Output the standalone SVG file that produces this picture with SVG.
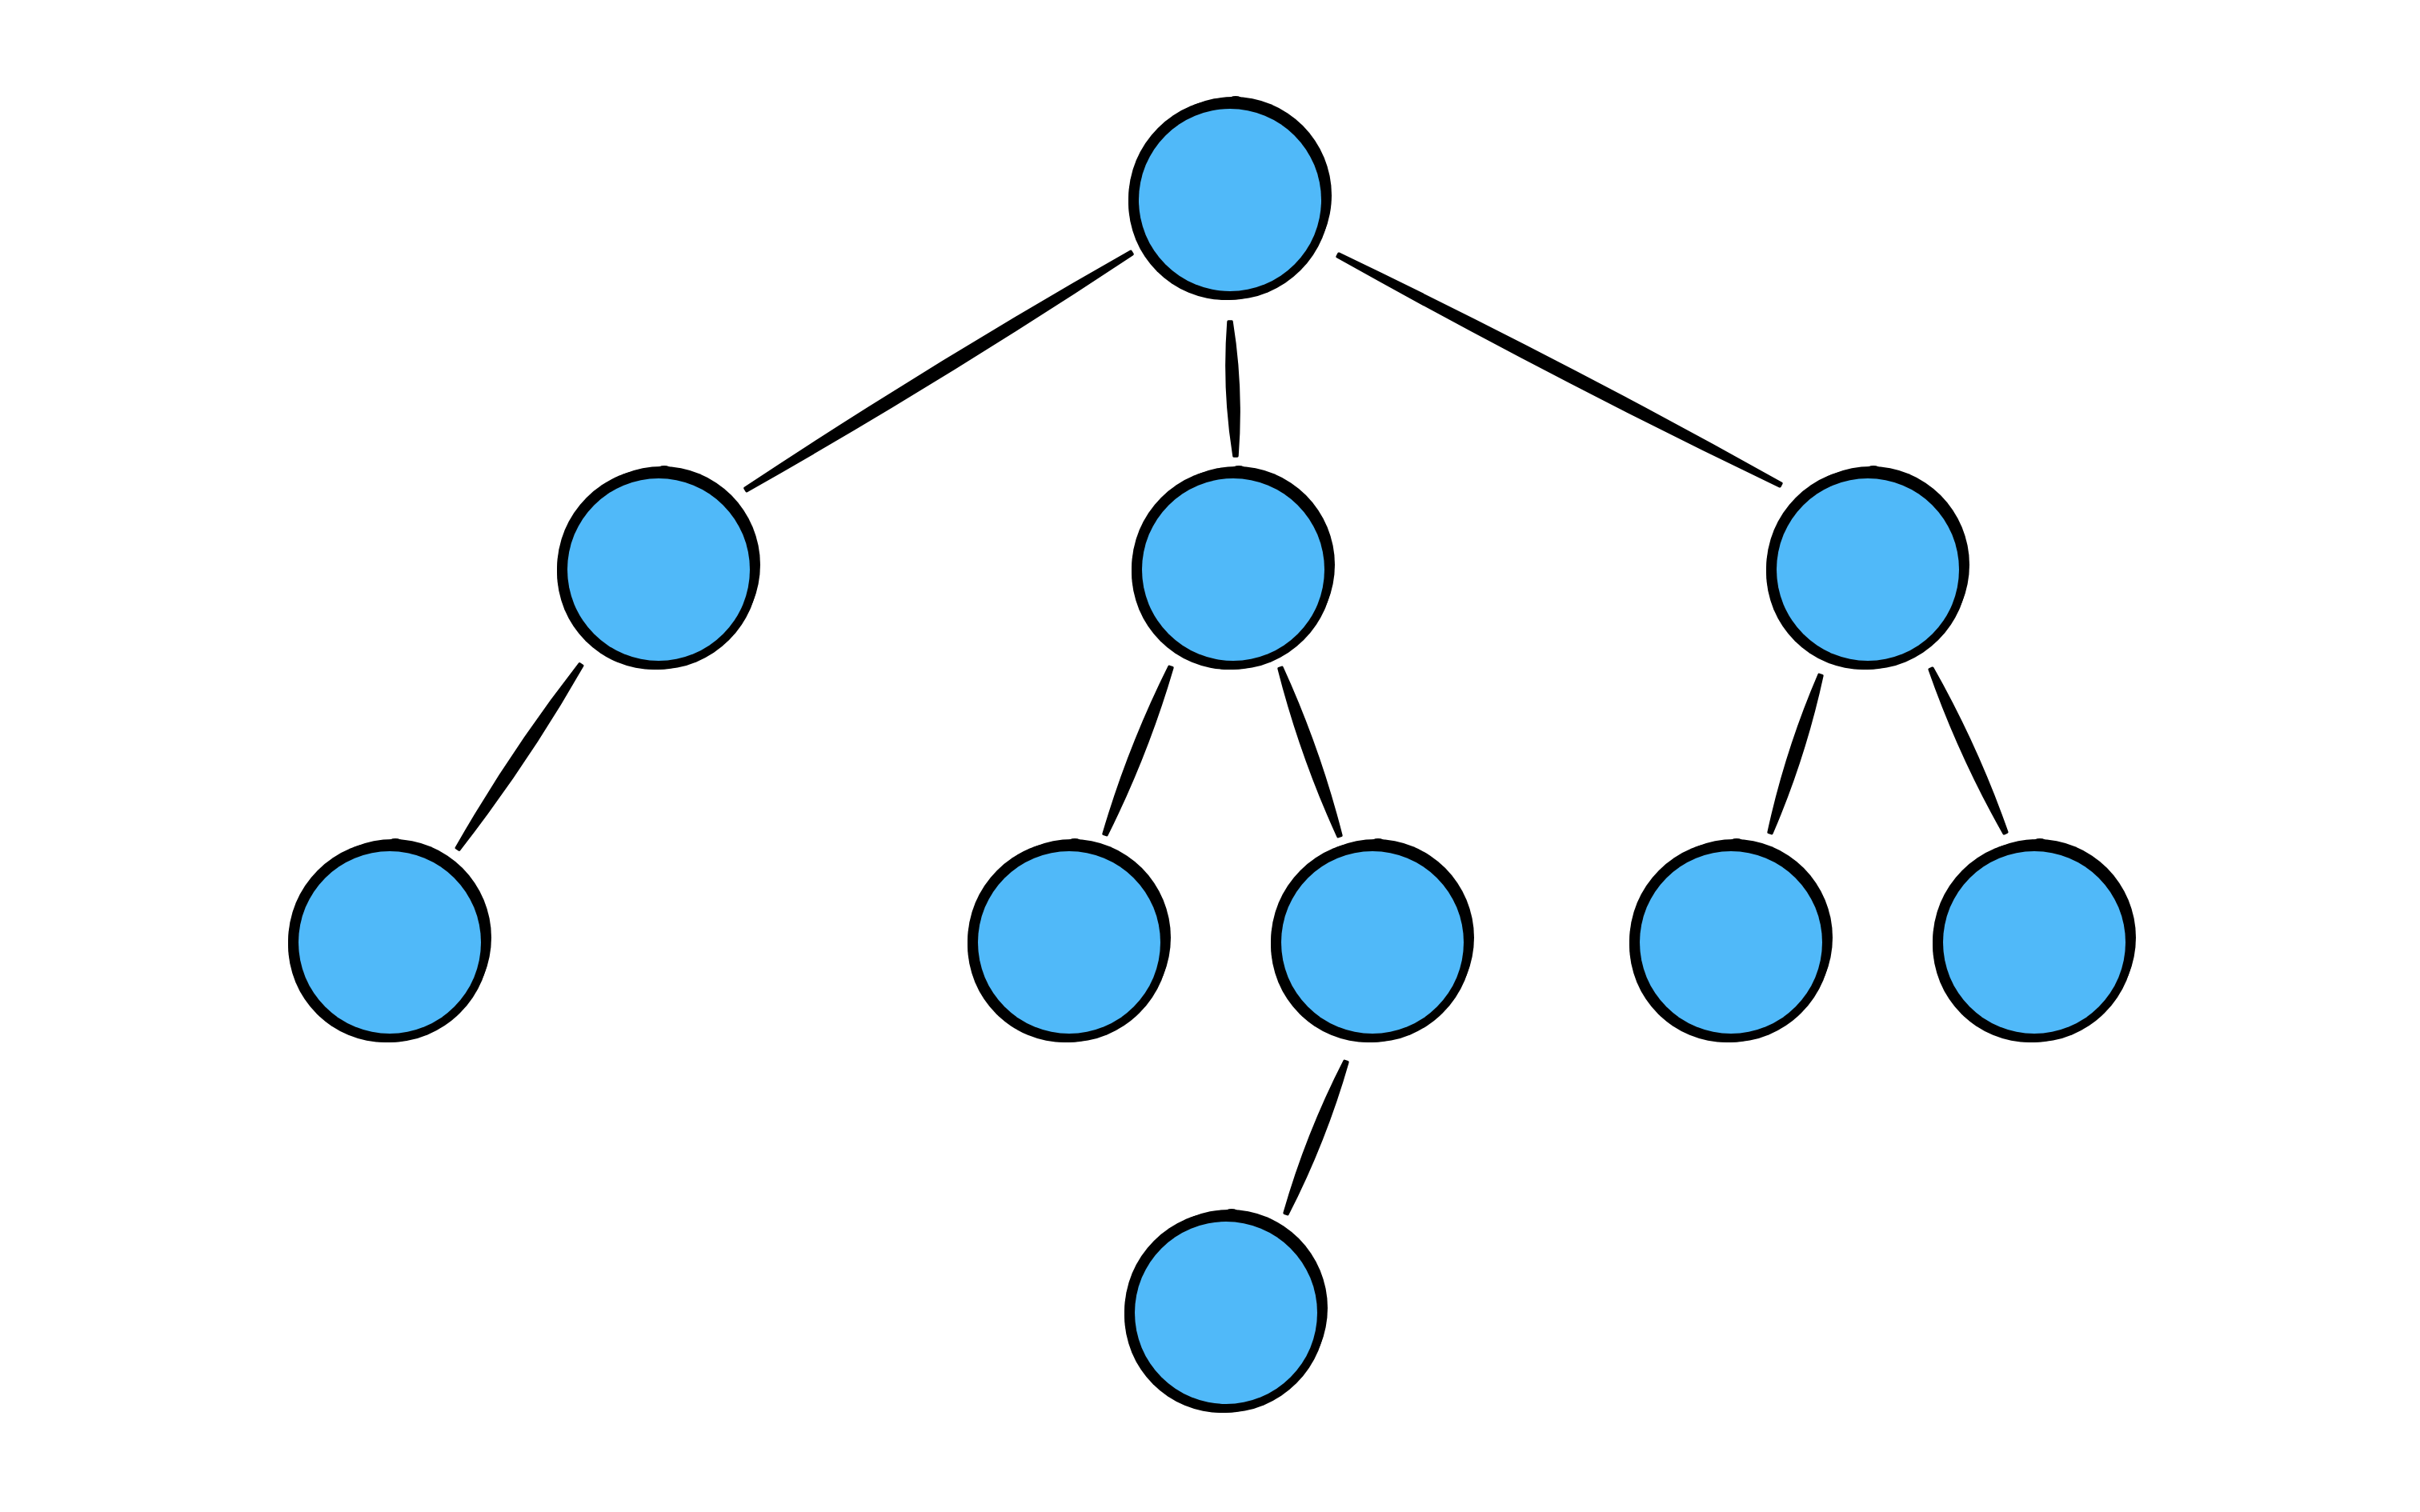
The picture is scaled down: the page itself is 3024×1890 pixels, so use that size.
<svg xmlns="http://www.w3.org/2000/svg" xmlns:xlink="http://www.w3.org/1999/xlink" width="3024" height="1890" viewBox="0 0 3024 1890">
  <style>
    .ink { fill: #000; }
    .body { fill: #50b9f9; }
    .edge { fill: #000; stroke: #000; stroke-width: 3.5; stroke-linejoin: round; }
  </style>
  <defs>
    <g id="nodeShape">
      <circle class="ink" cx="0" cy="0" r="126"/>
      <circle class="ink" cx="5" cy="-5" r="123"/>
      <circle class="ink" cx="-4" cy="4" r="122"/>
      <circle class="body" cx="1" cy="1" r="114"/>
      <ellipse class="ink" cx="8" cy="-124" rx="9" ry="5"/>
    </g>
  </defs>
  <rect x="0" y="0" width="3024" height="1890" fill="#ffffff"/>
  <g id="connectors">
    <path class="edge" d="M1413,314.3 Q1166.7,453.8 931,610.3 L933,613.7 Q1179.3,474.2 1415,317.7 Z"/>
    <path class="edge" d="M1535,402.1 Q1528.5,486.5 1542,570.1 L1546,569.9 Q1552.5,485.5 1539,401.9 Z"/>
    <path class="edge" d="M1671.1,320.8 Q1943,473.2 2224.1,607.8 L2225.9,604.2 Q1954,451.9 1672.9,317.2 Z"/>
    <path class="edge" d="M724.3,829.9 Q639,939.3 570.3,1059.9 L573.7,1062.1 Q659,952.7 727.7,832.1 Z"/>
    <path class="edge" d="M1461.1,833.3 Q1410.8,934.1 1379.1,1042.3 L1382.9,1043.7 Q1433.2,942.9 1464.9,834.7 Z"/>
    <path class="edge" d="M1598.1,835.7 Q1625.7,944 1672.1,1045.7 L1675.9,1044.3 Q1648.3,936 1601.9,834.3 Z"/>
    <path class="edge" d="M2273.1,843.4 Q2232.1,938.8 2210.1,1040.4 L2213.9,1041.6 Q2254.9,946.2 2276.9,844.6 Z"/>
    <path class="edge" d="M2411.2,836.8 Q2448.6,943.5 2504.2,1041.8 L2507.8,1040.2 Q2470.4,933.5 2414.8,835.2 Z"/>
    <path class="edge" d="M1680.1,1326.3 Q1633.3,1417.6 1605.1,1516.3 L1608.9,1517.7 Q1655.7,1426.4 1683.9,1327.7 Z"/>
  </g>
  <g id="node-root"><use xlink:href="#nodeShape" href="#nodeShape" transform="translate(1536,249)"/></g>
  <g id="node-a"><use xlink:href="#nodeShape" href="#nodeShape" transform="translate(822,711)"/></g>
  <g id="node-b"><use xlink:href="#nodeShape" href="#nodeShape" transform="translate(1540,711)"/></g>
  <g id="node-c"><use xlink:href="#nodeShape" href="#nodeShape" transform="translate(2333,711)"/></g>
  <g id="node-a1"><use xlink:href="#nodeShape" href="#nodeShape" transform="translate(486,1177)"/></g>
  <g id="node-b1"><use xlink:href="#nodeShape" href="#nodeShape" transform="translate(1335,1177)"/></g>
  <g id="node-b2"><use xlink:href="#nodeShape" href="#nodeShape" transform="translate(1714,1177)"/></g>
  <g id="node-c1"><use xlink:href="#nodeShape" href="#nodeShape" transform="translate(2162,1177)"/></g>
  <g id="node-c2"><use xlink:href="#nodeShape" href="#nodeShape" transform="translate(2541,1177)"/></g>
  <g id="node-b2a"><use xlink:href="#nodeShape" href="#nodeShape" transform="translate(1531,1640)"/></g>
</svg>
